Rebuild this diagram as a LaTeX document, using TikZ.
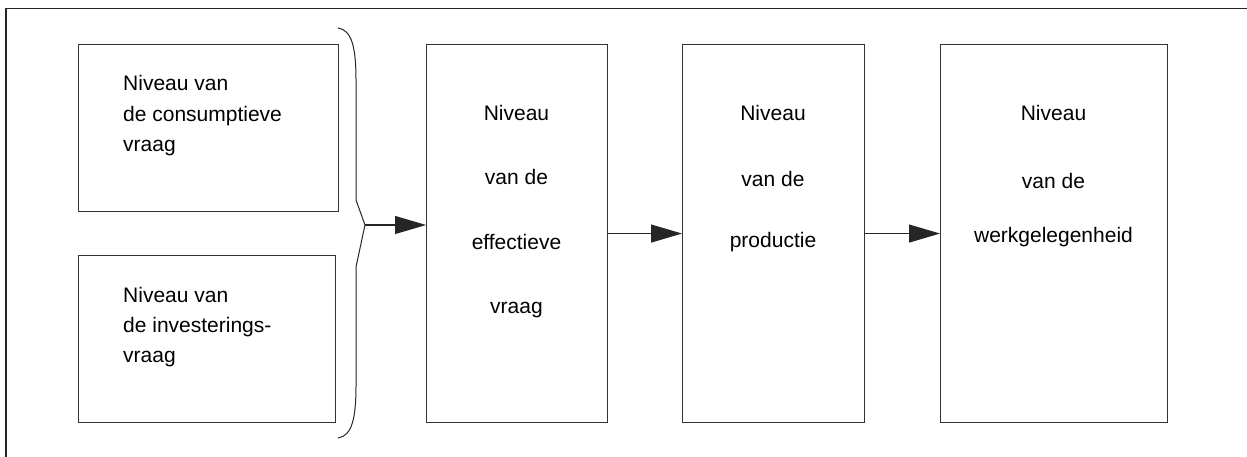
\documentclass[tikz,border=0pt]{standalone}
\usepackage{fontspec}
\setmainfont{Liberation Sans}
\usetikzlibrary{arrows.meta}
\begin{document}
\begin{tikzpicture}[x=1pt,y=-1pt,
  box/.style={draw=black!80,line width=1.1pt,rectangle,inner sep=0pt,anchor=north west},
  txt/.style={font=\fontsize{21}{25}\selectfont,inner sep=0pt,anchor=base west},
  ctxt/.style={font=\fontsize{21}{25}\selectfont,inner sep=0pt,anchor=base},
  flow/.style={draw=black!85,line width=1.1pt,-{Triangle[length=31pt,width=18pt]}},
  line/.style={draw=black!85,line width=1.1pt}]
\useasboundingbox (0,0) rectangle (1247,457);
% outer frame
\draw[line] (6,457) -- (6,8.5) -- (1247,8.5);

% boxes
\node[box,minimum width=260pt,minimum height=167pt] (cons) at (78,44) {};
\node[box,minimum width=257pt,minimum height=167pt] (inv) at (78,255) {};
\node[box,minimum width=181pt,minimum height=378pt] (eff) at (426,44) {};
\node[box,minimum width=182pt,minimum height=378pt] (prod) at (682,44) {};
\node[box,minimum width=227pt,minimum height=378pt] (werk) at (940,44) {};

% texts of the demand boxes
\node[txt] (cons1) at (123,91) {Niveau van};
\node[txt] (cons2) at (123,122) {de consumptieve};
\node[txt] (cons3) at (123,152) {vraag};
\node[txt] (inv1) at (123,302) {Niveau van};
\node[txt] (inv2) at (123,332) {de investerings-};
\node[txt] (inv3) at (123,362) {vraag};

% texts of the tall boxes
\node[ctxt] (eff1) at (516.5,121) {Niveau};
\node[ctxt] (eff2) at (516.5,185) {van de};
\node[ctxt] (eff3) at (516.5,249) {effectieve};
\node[ctxt] (eff4) at (516.5,313) {vraag};
\node[ctxt] (prod1) at (773,121) {Niveau};
\node[ctxt] (prod2) at (773,187) {van de};
\node[ctxt] (prod3) at (773,247) {productie};
\node[ctxt] (werk1) at (1053.5,121) {Niveau};
\node[ctxt] (werk2) at (1053.5,189) {van de};
\node[ctxt] (werk3) at (1053.5,242) {werkgelegenheid};

% brace joining the two demand boxes
\draw[line,line width=1pt] (338,28) .. controls (352,30) and (356,48) .. (356,80)
  -- (356,200) -- (365,225) coordinate (bracetip) -- (356,267) -- (356,386)
  .. controls (356,418) and (352,436) .. (338,438);

% connectors
\draw[flow] (bracetip) -- (bracetip -| eff.west);
\draw[flow] (eff.east) -- (prod.west);
\draw[flow] (prod.east) -- (werk.west);
\end{tikzpicture}
\end{document}
